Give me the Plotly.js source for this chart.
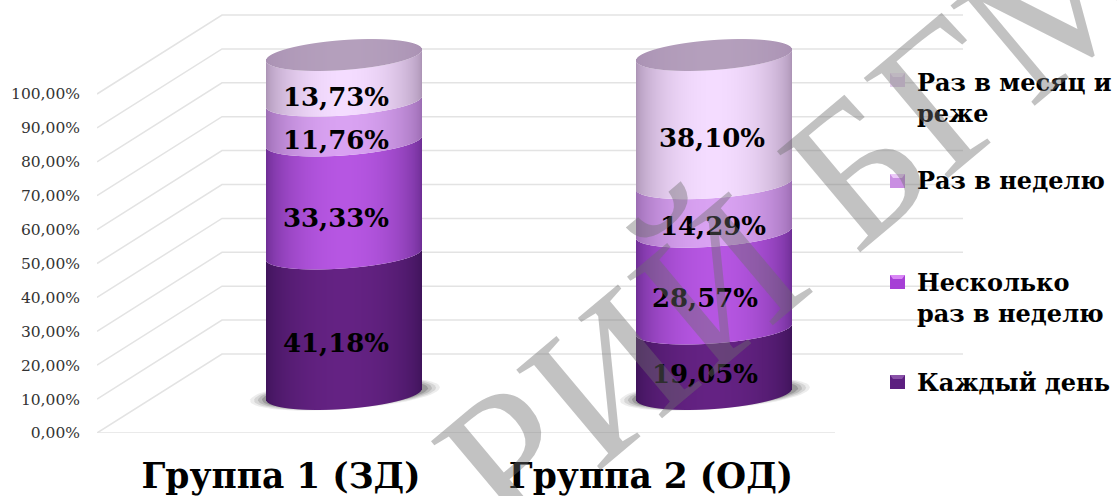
<!DOCTYPE html>
<html><head><meta charset="utf-8">
<script src="https://cdn.plot.ly/plotly-3.0.0.min.js"></script>
<style>html,body{margin:0;padding:0;background:#fff;overflow:hidden}</style>
</head><body><div id="chart" style="width:1117px;height:496px"></div>
<script>
const groups = ["Группа 1 (ЗД)", "Группа 2 (ОД)"];
const seriesNames = ["Каждый день", "Несколько раз в неделю", "Раз в неделю", "Раз в месяц и реже"];
const everyDay = [41.18, 19.05];
const severalWeek = [33.33, 28.57];
const onceWeek = [11.76, 14.29];
const onceMonth = [13.73, 38.10];
const tickValues = [0,10,20,30,40,50,60,70,80,90,100];
const tickLabels = ["0,00%","10,00%","20,00%","30,00%","40,00%","50,00%","60,00%","70,00%","80,00%","90,00%","100,00%"];

const series = [everyDay, severalWeek, onceWeek, onceMonth];
const edgeColors = ["#3c1257", "#682a8e", "#9668ad", "#a78fb0"];
const midColors = ["#642283", "#b656e2", "#d9a2f2", "#f4dcff"];
const legendColors = ["#5c1f80", "#a63fd6", "#c98ee2", "#e6d0ee"];
const legendLight = ["#8a52a8", "#d987f5", "#eccaf8", "#f8ecfc"];

// pixel-unit frame of the picture
const W = 1117, H = 496, L = 97, T = 14, B = 433;
const PX = 3.39;                 // px per percentage point
const DEPTH_CYL = 11.5, DEPTH_WALL = 23.3;   // depth of cylinder axis and back wall, in pct
const yMax = (B - T) / PX;
const cylCenters = [344, 714], labelTicks = [281, 651];
const R = 78, TILT = 5.5 / PX / R, BEND_END = 15 / PX, BEND_MID = 14 / PX;

const traces = [];
// --- walls
let gx = [], gy = [];
tickValues.forEach(v => {
  gx.push(97, 222, 963, null); gy.push(v, v + DEPTH_WALL, v + DEPTH_WALL, null);
});
gx.push(97, 835); gy.push(0, 0);
traces.push({type:"scatter", mode:"lines", x:gx, y:gy, line:{color:"#e3e3e3", width:1.5}, hoverinfo:"skip", showlegend:false, xaxis:"x", yaxis:"y"});
// --- shadows
cylCenters.forEach(c => {
  [[95, .10],[91, .14],[87, .2],[83, .3]].forEach(([r, op]) => {
    const sx = [], sy = [];
    for (let a = 0; a <= 72; a++) {
      const t = a / 72 * 2 * Math.PI;
      const dx = r * Math.cos(t);
      sx.push(c + 1 + dx);
      sy.push(DEPTH_CYL + TILT * dx + (r / 6.2) / PX * Math.sin(t));
    }
    traces.push({type:"scatter", mode:"lines", x:sx, y:sy, fill:"toself", fillcolor:`rgba(80,80,80,${op})`, line:{width:0}, hoverinfo:"skip", showlegend:false, xaxis:"x", yaxis:"y"});
  });
});
// --- cylinders: vertical strips of stacked bars
const arc = (c, x, bend) => { const u = (x - c) / R; return TILT * (x - c) - bend * Math.sqrt(Math.max(0, 1 - u * u)); };
const hex = s => [1,3,5].map(i => parseInt(s.substr(i,2),16));
const mix = (a, b, t) => { const A = hex(a), B2 = hex(b); return `rgb(${A.map((v,i)=>Math.round(v+(B2[i]-v)*t)).join(",")})`; };
const shade = (u) => Math.pow(Math.sin(Math.PI * Math.min(1, Math.max(0, u))), 0.55);
const stripX = [], stripG = [];
cylCenters.forEach((c, g) => { for (let x = c - R; x < c + R; x++) { stripX.push(x + .5); stripG.push(g); } });
series.forEach((vals, s) => {
  const base = [], h = [], col = [];
  stripX.forEach((x, i) => {
    const g = stripG[i], c = cylCenters[g];
    let cum = 0; for (let k = 0; k < s; k++) cum += series[k][g];
    const lo = cum + arc(c, x, s === 0 ? BEND_END : BEND_MID);
    const hi = cum + vals[g] + arc(c, x, s === 3 ? BEND_END : BEND_MID);
    base.push(lo); h.push(hi - lo);
    col.push(mix(edgeColors[s], midColors[s], shade((x - c + R) / (2 * R))));
  });
  traces.push({type:"bar", x:stripX, y:h, base:base, width:1.02, marker:{color:col, opacity:1, line:{width:0}}, name:seriesNames[s], hoverinfo:"skip", showlegend:false, xaxis:"x", yaxis:"y2"});
});
// --- lid
{
  const base = [], h = [], col = [];
  stripX.forEach((x, i) => {
    const c = cylCenters[stripG[i]];
    const lo = 100 + arc(c, x, BEND_END), hi = 100 + TILT * (x - c) + BEND_END * Math.sqrt(Math.max(0, 1 - ((x - c) / R) ** 2));
    base.push(lo); h.push(hi - lo);
    col.push(mix("#a88fb2", "#b49fbc", shade((x - c + R) / (2 * R))));
  });
  traces.push({type:"bar", x:stripX, y:h, base:base, width:1.02, marker:{color:col, opacity:1, line:{width:0}}, hoverinfo:"skip", showlegend:false, xaxis:"x", yaxis:"y2"});
}
// --- value labels
const labelX = [[336,336,336,336],[705,705,713,712]];
const labelDrop = [[8,10,8,8],[2,6,7,8]];
const fmt = v => v.toFixed(2).replace(".", ",") + "%";
groups.forEach((name, g) => {
  let cum = 0; const ly = [], lt = [];
  series.forEach((vals, s) => { ly.push(cum + vals[g] / 2 - labelDrop[g][s] / PX); lt.push(fmt(vals[g])); cum += vals[g]; });
  traces.push({type:"scatter", mode:"text", x:labelX[g], y:ly, text:lt, textposition:"bottom center",
    textfont:{family:"DejaVu Serif", size:26, weight:700, color:"#000"}, hoverinfo:"skip", showlegend:false, xaxis:"x", yaxis:"y2"});
});

const py = px => 1 - (px - T) / (B - T);
const legendText = ["Каждый день", "Несколько<br>раз в неделю", "Раз в неделю", "Раз в месяц и<br>реже"];
const legendY = [382, 282, 181, 80];
const legendTextY = [382, 298, 181, 98];
const shapes = [], annotations = [];
const fx = x => (x - L) / (W - L);
legendY.forEach((y, i) => {
  shapes.push({type:"rect", xref:"x", yref:"paper", layer:"above", x0:890, x1:905, y0:py(y+7), y1:py(y-7), fillcolor:legendColors[i], line:{width:0}});
  shapes.push({type:"path", xref:"paper", yref:"paper", layer:"above",
    path:`M ${fx(890)} ${py(y-7)} L ${fx(905)} ${py(y-7)} L ${fx(902)} ${py(y-3)} L ${fx(893)} ${py(y-3)} Z`, fillcolor:legendLight[i], line:{width:0}});
  annotations.push({xref:"x", yref:"paper", x:915, y:py(legendTextY[i]), xanchor:"left", yanchor:"middle", align:"left", showarrow:false,
    text:legendText[i], font:{family:"DejaVu Serif", size:24, weight:700, color:"#000"}});
});
// watermark
annotations.push({xref:"x", yref:"paper", x:795, y:py(218), xanchor:"center", yanchor:"middle", showarrow:false, textangle:-40,
  text:"РИЙ БГМ", font:{family:"Liberation Serif", size:200, color:"rgba(110,110,110,0.42)"}});

const layout = {
  width:W, height:H, margin:{l:L, r:0, t:T, b:H - B, pad:0}, paper_bgcolor:"#fff", plot_bgcolor:"rgba(0,0,0,0)",
  barmode:"overlay", showlegend:false, shapes, annotations,
  xaxis:{range:[L, W], tickmode:"array", tickvals:labelTicks, ticktext:groups, showgrid:false, zeroline:false, showline:false, ticks:"",
    ticklabelstandoff:19, tickfont:{family:"DejaVu Serif", size:34.5, weight:700, color:"#000"}},
  yaxis:{range:[0, yMax], tickmode:"array", tickvals:tickValues, ticktext:tickLabels, showgrid:false, zeroline:false, showline:false, ticks:"",
    ticklabelstandoff:16, tickfont:{family:"DejaVu Serif", size:15.5, color:"#333"}},
  yaxis2:{range:[-DEPTH_CYL, yMax - DEPTH_CYL], overlaying:"y", visible:false}
};
Plotly.newPlot("chart", traces, layout, {displayModeBar:false, staticPlot:true});
</script></body></html>
